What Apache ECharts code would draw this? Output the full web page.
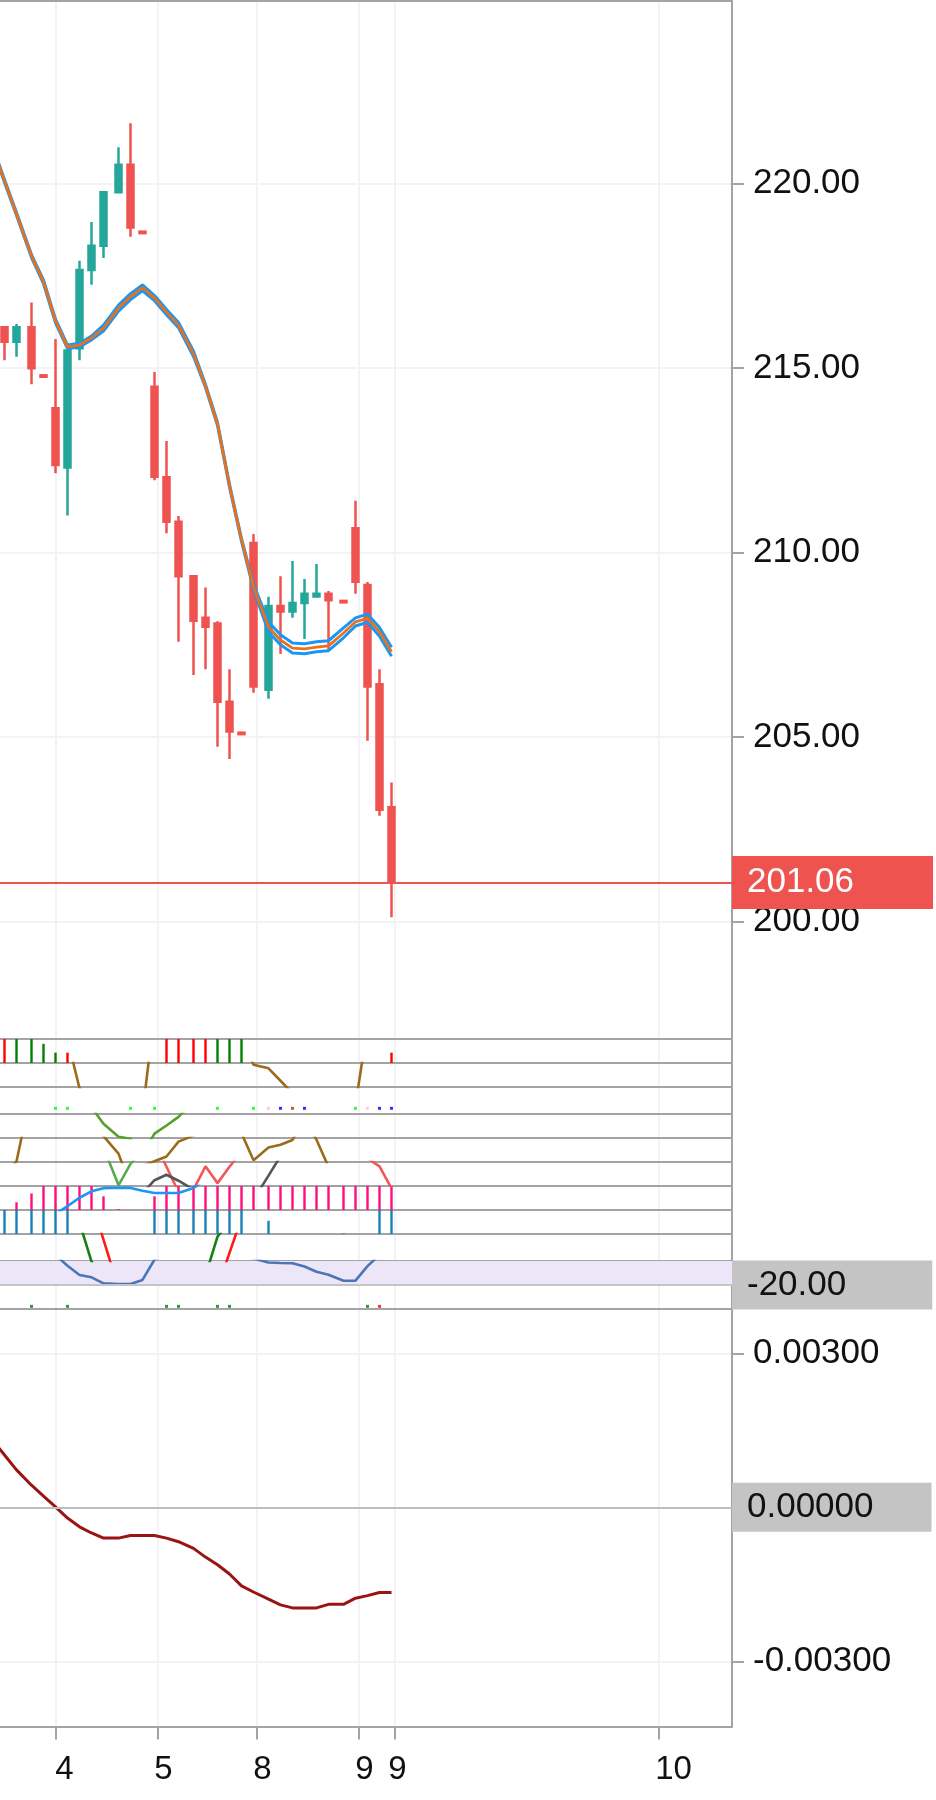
<!DOCTYPE html>
<html>
<head>
<meta charset="utf-8">
<script src="https://cdn.jsdelivr.net/npm/echarts@6/dist/echarts.min.js"></script>
<style>
html, body { margin: 0; padding: 0; background: #fff; }
#main { width: 936px; height: 1800px; }
</style>
</head>
<body>
<div id="main"></div>
<script>
// time index of every bar on the axis (bigger steps = session breaks); bar 0 is off screen
var barSlot = [1, 5, 9, 14, 18, 22, 26, 30, 34, 38, 43, 47, 51, 55, 59, 63, 68, 72, 76, 80, 84,
  88, 93, 97, 101, 105, 109, 113, 118, 122, 126, 130, 134];
var slotCount = 248, firstSlot = 4;

// day ticks on the time axis and their labels
var dayTickSlots = [22, 56, 89, 123, 135, 223];
var dayLabelSlots = [25, 58, 91, 125, 136, 228];
var dayLabels = ['4', '5', '8', '9', '9', '10'];

var priceTicks = [200, 205, 210, 215, 220];
var oscTicks = [-0.003, 0, 0.003];
var lastPrice = 201.06;

// [open, close, low, high]
var ohlc = ['-',
  [216.10, 215.71, 215.21, 216.12], [215.71, 216.10, 215.30, 216.19], [216.10, 214.99, 214.56, 216.77],
  [214.80, 214.76, 214.76, 214.80], [213.91, 212.37, 212.15, 215.78], [212.30, 215.47, 211.00, 215.50],
  [215.53, 217.65, 215.21, 217.90], [217.65, 218.31, 217.25, 218.95], [218.31, 219.76, 217.98, 219.76],
  [219.76, 220.50, 219.76, 220.98], [220.50, 218.80, 218.55, 221.63], [218.69, 218.65, 218.65, 218.69],
  [214.49, 212.05, 211.96, 214.89], [212.04, 210.83, 210.52, 213.02], [210.83, 209.36, 207.58, 210.99],
  [209.36, 208.15, 206.68, 209.36], [208.23, 207.99, 206.84, 209.05], [208.08, 205.96, 204.74, 208.14],
  [205.96, 205.15, 204.41, 206.84], [205.12, 205.08, 205.08, 205.12], [210.26, 206.37, 206.20, 210.50],
  [206.28, 208.55, 206.04, 208.80], [208.55, 208.40, 207.25, 209.36], [208.40, 208.63, 208.23, 209.77],
  [208.63, 208.88, 207.66, 209.28], [208.81, 208.88, 208.81, 209.69], [208.88, 208.71, 207.35, 208.96],
  [208.69, 208.65, 208.65, 208.69], [210.66, 209.21, 208.88, 211.40], [209.12, 206.37, 204.90, 209.20],
  [206.43, 203.03, 202.87, 206.84], [203.10, 201.06, 200.12, 203.77]];

var maMid = [220.98, 220.06, 219.17, 218.03, 217.33, 216.27, 215.57, 215.62, 215.81, 216.08, 216.62,
  216.93, 217.17, 216.89, 216.51, 216.16, 215.38, 214.51, 213.48, 211.81, 210.34, 209.07, 207.98,
  207.63, 207.41, 207.39, 207.44, 207.47, 207.82, 208.12, 208.22, 207.85, 207.31];
var maUpper = [221.02, 220.10, 219.21, 218.07, 217.38, 216.32, 215.62, 215.67, 215.86, 216.16, 216.70,
  217.01, 217.25, 216.96, 216.58, 216.23, 215.45, 214.55, 213.52, 211.85, 210.38, 209.14, 208.12,
  207.77, 207.55, 207.53, 207.58, 207.61, 207.96, 208.23, 208.33, 207.97, 207.43];
var maLower = [220.94, 220.02, 219.13, 217.99, 217.28, 216.22, 215.52, 215.57, 215.76, 216.00, 216.54,
  216.85, 217.09, 216.82, 216.44, 216.09, 215.31, 214.47, 213.44, 211.77, 210.30, 209.00, 207.85,
  207.50, 207.28, 207.26, 207.31, 207.34, 207.69, 208.01, 208.11, 207.73, 207.19];

// small indicator strips (each strip scaled 0..100, strip 10 scaled -20..0)
var sigHist = [null, -100, 100, 100, 80, 43, -43, null, null, null, null, null, null, null,
  -100, -100, -100, -100, 100, 100, 100, null, null, null, null, null, null, null, null, null, null, null, -43];
var trendA = [180, 180, 180, 180, 180, 180, 200, -5, -60, -60, -60, -60, -111, 312, 200, 200, 200,
  200, 200, 200, 200, 93, 78, 26, -26, -60, -60, -60, -60, -74, 251, 200, 200];
var signalA = [null, null, null, null, null, 'up', 'up', null, null, null, null, 'up', null, 'up', null,
  null, null, null, 'up', null, null, 'up', 'weak', 'down', 'flat', 'down', null, null, null, 'up',
  'weak', 'down', 'down'];
var trendB = [150, 150, 150, 150, 150, 150, 150, 150, 128, 59, 5, -3, -68, 18, 52, 88, 150, 150, 150,
  150, 150, 150, 150, 150, 150, 150, 150, 150, 150, 150, 150, 150, 150];
var trendC = [-50, -50, 2, 300, 150, 150, 150, 150, 150, 108, 35, -100, -15, 3, 23, 85, 110, 150, 150,
  150, 120, 7, 60, 72, 92, 176, 93, -20, -40, -40, -40, -40, -40];
var crossFast = [150, 150, 150, 150, 150, 150, 150, 150, 150, 161, 3, 92, 150, 150, 150, 150, 150, 150,
  150, 150, 150, 150, 150, 150, 150, 150, 150, 150, 150, 150, 150, 150, 150];
var crossMid = [150, 150, 150, 150, 150, 150, 150, 150, 150, 150, 150, 150, 150, 185, 80, -25, -15, 82,
  12, 80, 143, 150, 150, 150, 150, 150, 150, 150, 150, 150, 115, 82, -10];
var crossSlow = [-50, -50, -50, -50, -50, -50, -50, -50, -50, -50, -50, -50, -30, 24, 47, 22, -15, -50,
  -50, -50, -50, -57, 43, 124, 150, 150, 150, 150, 150, 150, 150, 150, 150];
var pressBars = [null, null, 32, 69, 100, 100, 100, 100, 100, 57, 4, null, null, 57, 100, 100, 100, 100,
  100, 100, 100, 100, 100, 100, 100, 100, 100, 100, 100, 100, 100, 100, 100];
var pressLine = [-60, -60, -60, -60, -60, -17, 16, 51, 78, 91, 93, 92, 80, 71, 71, 71, 92, 126, 150, 150,
  150, 150, 150, 150, 150, 150, 150, 150, 150, 150, 150, 150, 150];
var flowBars = [null, 100, 100, 100, 100, 100, 100, null, null, null, null, null, null, 100, 100, 100,
  100, 100, 100, 100, 100, null, 55, null, null, null, null, null, 3, null, null, 100, 100];
var diPlus = [150, 150, 150, 150, 150, 150, 150, 143, -2, -60, -60, -60, -60, -60, -60, -60, -60, -54,
  90, 150, 150, 150, 150, 150, 150, 150, 150, 150, 150, 150, 150, 150, 150];
var diMinus = [150, 150, 150, 150, 150, 150, 150, 150, 222, 79, -101, -60, -60, -60, -60, -60, -60, -60,
  -99, 30, 159, 150, 150, 150, 150, 150, 150, 150, 150, 150, 150, 150, 150];
var pctR = [5, 5, 5, 5, 5, 5, -4, -11.7, -13.6, -18.6, -19.2, -19.2, -15.8, 1.2, 5, 5, 5, 5, 5, 5, 5, 2,
  -1.3, -1.7, -1.9, -4.6, -9, -11.4, -16.4, -16.4, -4.3, 5, 5];
var signalB = [null, null, null, 'up', null, null, 'up', null, null, null, null, null, null, null, 'up',
  'up', null, null, 'up', 'up', null, null, null, null, null, null, null, null, null, null, 'up', 'down', null];

var macd = [0.00131, 0.00102, 0.00073, 0.00043, 0.00022, 0.00001, -0.00021, -0.00038, -0.00050,
  -0.00060, -0.00060, -0.00055, -0.00055, -0.00055, -0.00060, -0.00067, -0.00080, -0.00097, -0.00112,
  -0.00130, -0.00153, -0.00165, -0.00179, -0.00190, -0.00196, -0.00196, -0.00196, -0.00189, -0.00189,
  -0.00177, -0.00172, -0.00166, -0.00166];

var font = '"Liberation Sans", Arial, sans-serif';
var sepColor = '#a3a3a3';
var gridColor = '#f3f2f6';
var paneEdges = [1, 1039, 1063, 1087, 1114, 1138, 1162, 1186, 1210, 1234, 1261, 1285, 1309, 1726.5];
var paneRange = [[196.823, 224.938], [0, 100], [0, 100], [0, 100], [0, 100], [0, 100], [0, 100],
  [0, 100], [0, 100], [0, 100], [-20, 0], [0, 100], [-0.00427, 0.003863]];

var slotNames = [];
for (var i = 0; i < slotCount; i++) slotNames.push(String(i));

function onSlots(vals) {
  var out = [];
  for (var i = 0; i < slotCount; i++) out.push('-');
  vals.forEach(function (v, j) { if (v != null && v !== '-') out[barSlot[j]] = v; });
  return out;
}
function isDayTick(i) { return dayTickSlots.indexOf(i) >= 0; }
function isDayLabel(i) { return dayLabelSlots.indexOf(i) >= 0; }

var grids = [], xAxes = [], yAxes = [];
for (var g = 0; g < paneEdges.length - 1; g++) {
  grids.push({ left: 0, width: 732, top: paneEdges[g], height: paneEdges[g + 1] - paneEdges[g],
    containLabel: false, outerBoundsMode: 'none' });
  var last = g === paneEdges.length - 2;
  xAxes.push({
    type: 'category', gridIndex: g, data: slotNames, min: firstSlot, max: slotCount - 1,
    boundaryGap: true, position: 'bottom',
    axisLine: { show: true, onZero: false, lineStyle: { color: g === 10 ? '#c4c4c4' : sepColor, width: 2 } },
    axisTick: { show: last, alignWithLabel: true, interval: isDayTick, length: 13, lineStyle: { color: sepColor, width: 2 } },
    axisLabel: { show: last, interval: isDayLabel, margin: 27, fontSize: 33, fontFamily: font, color: '#111',
      formatter: function (v) { var k = dayLabelSlots.indexOf(Number(v)); return k >= 0 ? dayLabels[k] : ''; } },
    splitLine: { show: true, alignWithLabel: true, interval: isDayTick, lineStyle: { color: gridColor, width: 2 } }
  });
  var y = {
    type: 'value', gridIndex: g, position: 'right', min: paneRange[g][0], max: paneRange[g][1],
    axisLine: { show: true, onZero: false, lineStyle: { color: sepColor, width: 2 } },
    axisTick: { show: false }, axisLabel: { show: false }, splitLine: { show: false }
  };
  if (g === 0 || last) {
    var ticks = g === 0 ? priceTicks : oscTicks;
    var digits = g === 0 ? 2 : 5;
    y.splitNumber = g === 0 ? 5 : 3;
    y.axisTick = { show: true, length: 12, customValues: ticks, lineStyle: { color: sepColor, width: 2 } };
    y.axisLabel = { show: true, customValues: ticks, margin: 21, fontSize: 35, fontFamily: font, color: '#111',
      formatter: (function (d) { return function (v) { return Number(v).toFixed(d); }; })(digits) };
    y.splitLine = { show: true, lineStyle: { color: gridColor, width: 2 } };
  }
  yAxes.push(y);
}
// top border of the price pane
xAxes.push({ type: 'category', gridIndex: 0, data: slotNames, min: firstSlot, max: slotCount - 1,
  position: 'top', axisLine: { show: true, onZero: false, lineStyle: { color: sepColor, width: 2 } },
  axisTick: { show: false }, axisLabel: { show: false }, splitLine: { show: false } });

function lineS(grid, vals, color, width, extra) {
  return Object.assign({ type: 'line', xAxisIndex: grid, yAxisIndex: grid, data: onSlots(vals),
    symbol: 'none', showSymbol: false, connectNulls: true, clip: true, silent: true,
    lineStyle: { color: color, width: width } }, extra || {});
}
function barS(grid, vals, colorFn) {
  return { type: 'bar', xAxisIndex: grid, yAxisIndex: grid, barWidth: 2.4, clip: true, silent: true,
    data: onSlots(vals.map(function (v) { return v == null ? null : { value: Math.abs(v), itemStyle: { color: colorFn(v) } }; })) };
}
function dotS(grid, kinds, level, colors) {
  return { type: 'scatter', xAxisIndex: grid, yAxisIndex: grid, symbol: 'rect', symbolSize: 3, silent: true,
    data: onSlots(kinds.map(function (k) { return k == null ? null : { value: level, itemStyle: { color: colors[k] } }; })) };
}
function boxLabel(text, bg, color, padRight) {
  return { show: true, position: 'end', distance: 0, formatter: text, color: color, backgroundColor: bg,
    fontSize: 35, fontFamily: font, lineHeight: 37, padding: [6, padRight, 6, 15] };
}

var series = [
  { type: 'candlestick', xAxisIndex: 0, yAxisIndex: 0, data: onSlots(ohlc), barWidth: 6.5, silent: true,
    itemStyle: { color: '#26a69a', color0: '#ef5350', borderColor: '#26a69a', borderColor0: '#ef5350', borderWidth: 2.5 },
    markLine: { silent: true, symbol: 'none', lineStyle: { color: '#ef5350', width: 2, type: 'solid' },
      label: Object.assign(boxLabel(lastPrice.toFixed(2), '#ef5350', '#fff', 79), { padding: [8, 79, 8, 15] }),
      data: [{ yAxis: lastPrice }] } },
  lineS(0, maUpper, '#1a96f5', 3),
  lineS(0, maLower, '#1a96f5', 3),
  lineS(0, maMid, '#e8711c', 2.8),
  barS(1, sigHist, function (v) { return v < 0 ? '#ff0000' : '#008000'; }),
  lineS(2, trendA, '#9c6a1c', 2.6),
  dotS(3, signalA, 21, { up: '#00ff00', weak: '#ffc0cb', down: '#0000ff', flat: '#8b4513' }),
  lineS(4, trendB, '#55a028', 2.6),
  lineS(5, trendC, '#9c6a1c', 2.6),
  lineS(6, crossFast, '#5aab50', 2.6),
  lineS(6, crossMid, '#f25858', 2.6),
  lineS(6, crossSlow, '#555555', 2.6),
  barS(7, pressBars, function () { return '#ff0f7b'; }),
  lineS(7, pressLine, '#1e96f0', 2.6),
  barS(8, flowBars, function () { return '#1b80b8'; }),
  lineS(9, diPlus, '#128012', 2.6),
  lineS(9, diMinus, '#ff1a1a', 2.6),
  lineS(10, pctR, '#4a76b8', 2.6, {
    markArea: { silent: true, itemStyle: { color: '#ede6f8' }, data: [[{ yAxis: -20 }, { yAxis: 0 }]] },
    markLine: { silent: true, symbol: 'none', lineStyle: { color: '#c4c4c4', width: 2, type: 'solid' },
      label: boxLabel('-20.00', '#c4c4c4', '#111', 86), data: [{ yAxis: -20 }] } }),
  dotS(11, signalB, 11, { up: '#008000', down: '#ff0000' }),
  lineS(12, macd, '#9b1414', 3, {
    markLine: { silent: true, symbol: 'none', lineStyle: { color: '#bdbdbd', width: 2, type: 'solid' },
      label: boxLabel('0.00000', '#c4c4c4', '#111', 58), data: [{ yAxis: 0 }] } })
];

var chart = echarts.init(document.getElementById('main'));
chart.setOption({
  animation: false,
  backgroundColor: '#ffffff',
  grid: grids,
  xAxis: xAxes,
  yAxis: yAxes,
  series: series
});
</script>
</body>
</html>
